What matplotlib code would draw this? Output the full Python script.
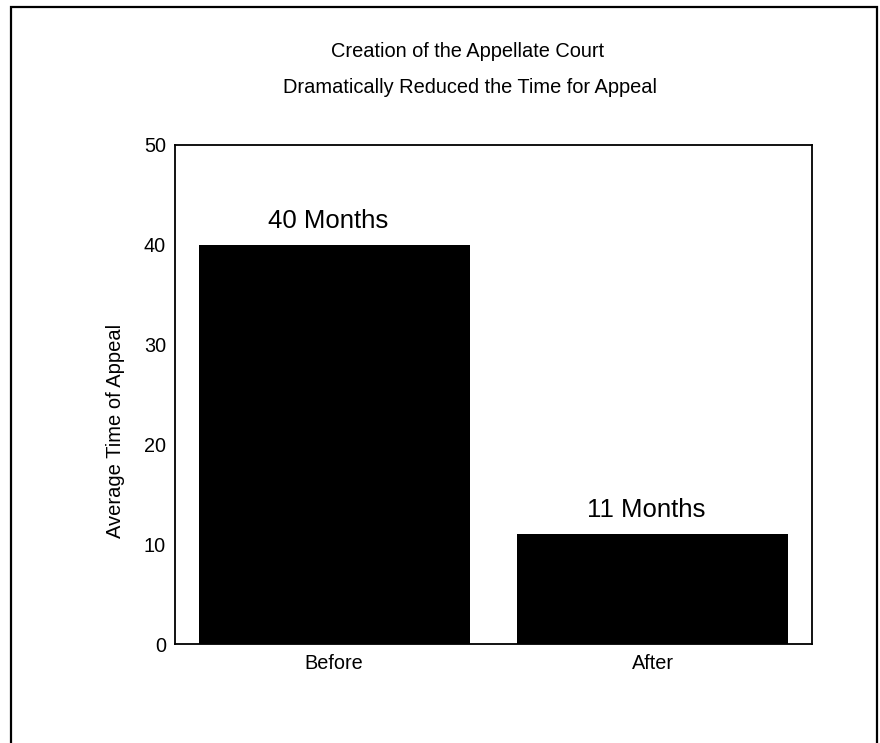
import matplotlib
matplotlib.use("Agg")
import matplotlib.pyplot as plt
from matplotlib.patches import Rectangle

plt.rcParams['font.family'] = ['Liberation Sans', 'DejaVu Sans']

# data
periods = ['Before', 'After']
months = [40, 11]
bar_labels = ['40 Months', '11 Months']
title_lines = ['Creation of the Appellate Court',
               'Dramatically Reduced the Time for Appeal']

fig = plt.figure(figsize=(8.8, 7.43), dpi=100)
W, H = 880, 743

# outer frame around the whole chart (bottom edge runs off the page)
fig.patches.append(Rectangle((11 / W, -0.01), (877 - 11) / W, 1.01 - 7 / H,
                             transform=fig.transFigure, fill=False,
                             edgecolor='black', linewidth=1.6))

ax = fig.add_axes([175 / W, 1 - 644 / H, (812 - 175) / W, (644 - 145) / H])
x = list(range(len(periods)))
ax.bar(x, months, width=0.85, color='black')
ax.set_xlim(-0.5, 1.5)
ax.set_ylim(0, 50)
ax.set_yticks([0, 10, 20, 30, 40, 50])
ax.set_xticks(x)
ax.set_xticklabels(periods)
ax.tick_params(length=0, labelsize=14.3)
ax.tick_params(axis='y', pad=6.5)
ax.tick_params(axis='x', pad=7)
for s in ax.spines.values():
    s.set_linewidth(1.3)
ax.set_ylabel('Average Time of Appeal', fontsize=14.5, va='center')
ax.yaxis.set_label_coords(-0.094, 0.427)

for xi, v, lab in zip(x, months, bar_labels):
    ax.text(xi - 0.02, v + 1.7, lab, ha='center', va='baseline', fontsize=18.5)

fig.text(468 / W, 1 - 57 / H, title_lines[0], ha='center', va='baseline', fontsize=14.4)
fig.text(470 / W, 1 - 93 / H, title_lines[1], ha='center', va='baseline', fontsize=14.4)

fig.savefig('out.png', dpi=100)
